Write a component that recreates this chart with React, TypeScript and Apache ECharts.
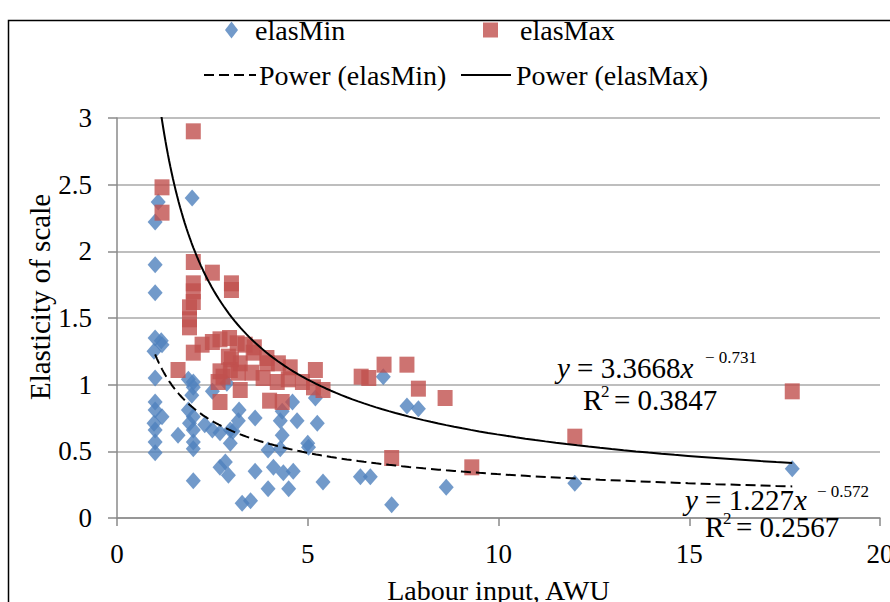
import React, { useEffect, useRef } from "react";
import * as echarts from "echarts";

const FONT = "Liberation Serif";

// elasMin (blue diamonds): [labour input AWU, elasticity]
const elasMin: number[][] = [
  [1.0, 2.22], [1.08, 2.37], [1.97, 2.4], [1.0, 1.9], [1.0, 1.69],
  [1.0, 1.35], [1.18, 1.3], [0.97, 1.25], [1.16, 1.33], [1.0, 1.05], [1.0, 0.87], [1.0, 0.81],
  [1.18, 0.76], [0.97, 0.71], [1.0, 0.66], [1.0, 0.57], [1.0, 0.49],
  [1.6, 0.62], [1.87, 1.04], [2.0, 0.98], [1.96, 0.92], [2.0, 1.02], [1.87, 0.81], [2.0, 0.76],
  [1.9, 0.71], [2.0, 0.66], [2.0, 0.57], [2.0, 0.52], [2.0, 0.28],
  [2.3, 0.7], [2.5, 0.66], [2.7, 0.64], [2.5, 0.95], [2.88, 1.01], [2.97, 0.66], [3.2, 0.81],
  [3.18, 0.73], [2.97, 0.56], [2.84, 0.42], [2.7, 0.38], [2.92, 0.32], [3.04, 0.65],
  [3.28, 0.11], [3.5, 0.13], [3.62, 0.75], [3.62, 0.35], [3.96, 0.51], [3.96, 0.22],
  [4.1, 0.38], [4.28, 0.73], [4.28, 0.52], [4.33, 0.62], [4.33, 0.8], [4.36, 0.34],
  [4.5, 0.22], [4.6, 0.87], [4.62, 0.35], [4.72, 0.73], [5.0, 0.56], [5.02, 0.53],
  [5.2, 0.9], [5.25, 0.71], [5.4, 0.27], [6.38, 0.31], [6.64, 0.31], [6.98, 1.06],
  [7.2, 0.1], [7.6, 0.84], [7.9, 0.82], [8.63, 0.23], [12.0, 0.26], [17.7, 0.37],
];

// elasMax (red squares)
const elasMax: number[][] = [
  [2.0, 2.9], [1.18, 2.48], [1.18, 2.29], [2.0, 1.92], [2.5, 1.84], [3.0, 1.76], [3.0, 1.71],
  [2.0, 1.76], [2.0, 1.7], [2.0, 1.62], [1.9, 1.58], [1.9, 1.49], [1.9, 1.43],
  [1.6, 1.11], [2.0, 1.24], [2.23, 1.3], [2.5, 1.32], [2.7, 1.34], [2.95, 1.35], [3.15, 1.31],
  [2.7, 1.1], [2.65, 1.02], [2.97, 1.11], [3.0, 1.19], [3.23, 1.16], [3.23, 0.96], [2.7, 0.87],
  [3.36, 1.3], [3.57, 1.24], [3.6, 1.28], [2.92, 1.21], [3.93, 1.2], [3.94, 1.16], [4.23, 1.16],
  [4.54, 1.13], [5.2, 1.11], [2.78, 1.06], [3.18, 1.09], [3.54, 1.09], [3.83, 1.05],
  [4.2, 1.02], [4.49, 1.04], [4.86, 1.02], [5.15, 0.98], [5.4, 0.96], [4.0, 0.88], [4.33, 0.87],
  [6.4, 1.06], [6.6, 1.05], [7.0, 1.15], [7.6, 1.15], [7.9, 0.97], [8.6, 0.9],
  [7.2, 0.45], [9.3, 0.38], [12.0, 0.61], [17.7, 0.95],
];

// Power trend lines y = a * x^b (coefficients from the chart's equations)
const trendMinCoef = { a: 1.227, b: -0.572 };
const trendMaxCoef = { a: 3.3668, b: -0.731 };
const trendRange = [1.0, 17.7];

const yTicks = { min: 0, max: 3, interval: 0.5 };
const xTicks = { min: 0, max: 20, interval: 5 };

function powerCurve(a: number, b: number): number[][] {
  const pts: number[][] = [];
  const n = 120;
  const [x0, x1] = trendRange;
  for (let i = 0; i <= n; i++) {
    const x = x0 * Math.pow(x1 / x0, i / n);
    pts.push([x, a * Math.pow(x, b)]);
  }
  return pts;
}

export default function App() {
  const ref = useRef<HTMLDivElement>(null);
  useEffect(() => {
    if (!ref.current) return;
    const chart = echarts.init(ref.current, undefined, { renderer: "svg" });
    const txt = (text: string, x: number, y: number, size: number, extra: any = {}) => ({
      type: "text",
      x,
      y,
      style: {
        text,
        fontSize: size,
        fontFamily: FONT,
        fill: "#000",
        align: "left",
        verticalAlign: "middle",
        ...extra,
      },
      z: 100,
    });
    const italicRich = {
      i: { fontStyle: "italic", fontSize: 29, fontFamily: FONT },
    };
    const legendText = { fontSize: 28, fontFamily: FONT, color: "#000" };
    const transparent = "rgba(0,0,0,0)";
    chart.setOption({
      animation: false,
      backgroundColor: "#fff",
      textStyle: { fontFamily: FONT },
      grid: {
        left: 117, top: 118, width: 763, height: 400,
        containLabel: false, outerBoundsMode: "none",
      },
      legend: [
        {
          data: [{ name: "elasMin", icon: "diamond" }],
          left: 225, top: 16, padding: 0, itemWidth: 13, itemHeight: 17,
          symbolKeepAspect: false, textStyle: { ...legendText, padding: [0, 0, 0, 12] },
        },
        {
          data: [{ name: "elasMax", icon: "rect" }],
          left: 483, top: 16, padding: 0, itemWidth: 15, itemHeight: 15,
          symbolKeepAspect: false, textStyle: { ...legendText, padding: [0, 0, 0, 17] },
        },
        {
          data: ["Power (elasMin)"],
          left: 203, top: 61, padding: 0, itemWidth: 52, itemHeight: 14,
          textStyle: { ...legendText, padding: [0, 0, 0, -2] },
        },
        {
          data: ["Power (elasMax)"],
          left: 460, top: 61, padding: 0, itemWidth: 50, itemHeight: 14,
          textStyle: { ...legendText, padding: [0, 0, 0, 0] },
        },
      ],
      xAxis: {
        type: "value",
        min: xTicks.min, max: xTicks.max, interval: xTicks.interval,
        name: "Labour input, AWU",
        nameLocation: "middle",
        nameGap: 58,
        nameTextStyle: { fontSize: 28, fontFamily: FONT, color: "#000" },
        axisLine: { lineStyle: { color: "#8a8a8a", width: 1.5 } },
        axisTick: { show: true, length: 8, lineStyle: { color: "#8a8a8a", width: 1.5 } },
        axisLabel: { fontSize: 27, fontFamily: FONT, color: "#000", margin: 22 },
        splitLine: { show: false },
      },
      yAxis: {
        type: "value",
        min: yTicks.min, max: yTicks.max, interval: yTicks.interval,
        axisLine: { show: true, lineStyle: { color: "#8a8a8a", width: 1.5 } },
        axisTick: { show: true, length: 9, lineStyle: { color: "#8a8a8a", width: 1.5 } },
        axisLabel: { fontSize: 27, fontFamily: FONT, color: "#000", margin: 25 },
        splitLine: { show: true, lineStyle: { color: "#a8a8a8", width: 1.5 } },
      },
      series: [
        {
          type: "scatter", name: "elasMin", data: elasMin,
          symbol: "diamond", symbolSize: [15, 17],
          itemStyle: { color: "#4F81BD" }, z: 2,
        },
        {
          type: "scatter", name: "elasMax", data: elasMax,
          symbol: "rect", symbolSize: [15, 16],
          itemStyle: { color: "#C0504D" }, z: 3,
        },
        {
          type: "line", name: "Power (elasMin)",
          data: powerCurve(trendMinCoef.a, trendMinCoef.b),
          symbol: "none", showSymbol: false, clip: true,
          lineStyle: { color: "#000", width: 2, type: [10, 5] },
          itemStyle: { color: transparent, borderColor: transparent, borderWidth: 0 }, z: 5,
        },
        {
          type: "line", name: "Power (elasMax)",
          data: powerCurve(trendMaxCoef.a, trendMaxCoef.b),
          symbol: "none", showSymbol: false, clip: true,
          lineStyle: { color: "#000", width: 2 },
          itemStyle: { color: transparent, borderColor: transparent, borderWidth: 0 }, z: 5,
        },
      ],
      graphic: [
        {
          type: "rect",
          shape: { x: 8.5, y: 20.5, width: 900, height: 600 },
          style: { fill: "none", stroke: "#000", lineWidth: 1.5 },
          silent: true, z: 0,
        },
        {
          type: "text", x: 40, y: 297, rotation: Math.PI / 2,
          style: {
            text: "Elasticity of scale", fontSize: 29, fontFamily: FONT, fill: "#000",
            align: "center", verticalAlign: "middle",
          },
        },
        txt("{i|y} = 3.3668{i|x}", 557, 368, 29, { rich: italicRich }),
        txt("− 0.731", 705, 357, 17),
        txt("R", 583, 400, 29),
        txt("2", 601, 391, 17),
        txt("= 0.3847", 614, 400, 29),
        txt("{i|y} = 1.227{i|x}", 685, 500, 29, { rich: italicRich }),
        txt("− 0.572", 817, 491, 17),
        txt("R", 705, 527, 29),
        txt("2", 723, 518, 17),
        txt("= 0.2567", 736, 527, 29),
      ],
    });
    return () => chart.dispose();
  }, []);
  return (
    <div
      ref={ref}
      style={{ position: "absolute", left: 0, top: 0, width: 890, height: 602, background: "#fff" }}
    />
  );
}
